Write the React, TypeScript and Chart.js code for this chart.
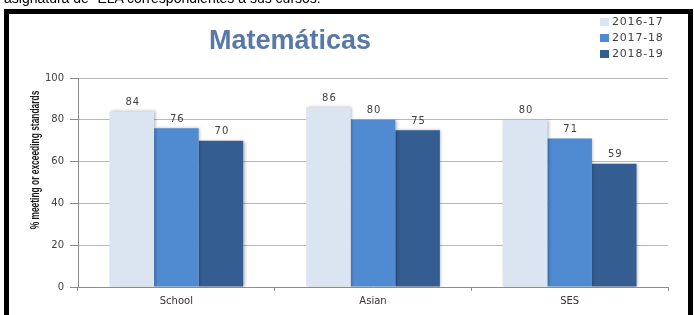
import React, { useEffect, useRef } from "react";
import { Chart, registerables } from "chart.js";

Chart.register(...registerables);

const categories = ["School", "Asian", "SES"];
const seriesLabels = ["2016-17", "2017-18", "2018-19"];
const values201617 = [84, 86, 80];
const values201718 = [76, 80, 71];
const values201819 = [70, 75, 59];
const seriesColors = ["#dbe5f1", "#508ad1", "#345d91"];
const yMin = 0;
const yMax = 100;
const yStep = 20;
const titleText = "Matemáticas";
const yAxisTitle = "% meeting or exceeding standards";
const headerText = "asignatura de “ELA correspondientes a sus cursos.";

const extrasPlugin = {
  id: "extras",
  beforeDatasetsDraw(chart: any) {
    const ctx = chart.ctx;
    ctx.save();
    ctx.shadowColor = "rgba(0,0,0,0.28)";
    ctx.shadowBlur = 3;
    ctx.shadowOffsetX = 1.5;
    ctx.shadowOffsetY = 0;
  },
  afterDatasetsDraw(chart: any) {
    const ctx = chart.ctx;
    ctx.restore();
    ctx.save();
    ctx.font = "10px 'DejaVu Sans'";
    (ctx as any).letterSpacing = "1px";
    ctx.fillStyle = "#404040";
    ctx.textAlign = "center";
    ctx.textBaseline = "bottom";
    chart.data.datasets.forEach((ds: any, di: number) => {
      const meta = chart.getDatasetMeta(di);
      meta.data.forEach((bar: any, i: number) => {
        ctx.fillText(String(ds.data[i]), bar.x + 1, bar.y - 4);
      });
    });
    ctx.restore();
  },
  afterDraw(chart: any) {
    const ctx = chart.ctx;
    const area = chart.chartArea;
    ctx.save();
    // title
    ctx.font = "bold 27px 'Liberation Sans'";
    ctx.fillStyle = "#5878a8";
    ctx.textAlign = "center";
    ctx.textBaseline = "alphabetic";
    ctx.fillText(titleText, area.left + 212, 49);
    // y axis title (condensed)
    ctx.save();
    ctx.translate(area.left - 42, area.top + 82);
    ctx.rotate(-Math.PI / 2);
    ctx.scale(0.7, 1);
    ctx.font = "bold 12px 'Liberation Sans'";
    ctx.fillStyle = "#1a1a1a";
    ctx.textAlign = "center";
    ctx.textBaseline = "middle";
    ctx.fillText(yAxisTitle, 0, 0);
    ctx.restore();
    // legend
    ctx.font = "11px 'DejaVu Sans'";
    (ctx as any).letterSpacing = "0.8px";
    ctx.textAlign = "left";
    ctx.textBaseline = "middle";
    chart.data.datasets.forEach((ds: any, di: number) => {
      const y = 22 + di * 16;
      const x = area.right - 68;
      ctx.fillStyle = ds.backgroundColor;
      ctx.fillRect(x, y - 4, 9, 8);
      ctx.fillStyle = "#404040";
      ctx.fillText(ds.label, x + 12, y);
    });
    ctx.restore();
  },
};

export default function App() {
  const canvasRef = useRef<HTMLCanvasElement | null>(null);

  useEffect(() => {
    const canvas = canvasRef.current;
    if (!canvas) return;
    const seriesValues = [values201617, values201718, values201819];
    const chart = new Chart(canvas, {
      type: "bar",
      data: {
        labels: categories,
        datasets: seriesLabels.map((label, i) => ({
          label,
          data: seriesValues[i],
          backgroundColor: seriesColors[i],
          borderWidth: 0,
          barPercentage: 1,
          categoryPercentage: 0.68,
        })),
      },
      options: {
        responsive: false,
        maintainAspectRatio: false,
        animation: false,
        events: [],
        layout: { padding: { left: 0, right: 26, top: 78, bottom: 0 } },
        plugins: {
          legend: { display: false },
          title: { display: false },
          tooltip: { enabled: false },
        },
        scales: {
          x: {
            afterFit: (s: any) => {
              s.height = 28;
            },
            grid: {
              display: true,
              drawOnChartArea: false,
              drawTicks: true,
              tickLength: 4,
              color: "#8c8c8c",
              offset: true,
            },
            border: { display: true, color: "#8c8c8c", width: 1 },
            ticks: {
              font: { family: "'DejaVu Sans'", size: 10 },
              color: "#333333",
              padding: 4,
            },
          },
          y: {
            min: yMin,
            max: yMax,
            afterFit: (s: any) => {
              s.width = 78;
            },
            grid: {
              color: "#b8b8b8",
              tickColor: "#8c8c8c",
              tickLength: 8,
              drawTicks: true,
            },
            border: { display: true, color: "#8c8c8c", width: 1 },
            ticks: {
              stepSize: yStep,
              font: { family: "'DejaVu Sans'", size: 10 },
              color: "#404040",
              padding: 6,
            },
          },
        },
      },
      plugins: [extrasPlugin],
    });
    return () => chart.destroy();
  }, []);

  return (
    <div
      style={{
        position: "fixed",
        left: 0,
        top: 0,
        width: 694,
        height: 315,
        overflow: "hidden",
        background: "#ffffff",
      }}
    >
      <canvas
        ref={canvasRef}
        width={694}
        height={315}
        style={{ position: "absolute", left: 0, top: 0, width: 694, height: 315 }}
      />
      <div
        style={{
          position: "absolute",
          left: 4,
          top: -10,
          fontFamily: "'Liberation Sans', sans-serif",
          fontSize: 14,
          lineHeight: "16px",
          color: "#000",
          whiteSpace: "nowrap",
        }}
      >
        {headerText}
      </div>
      <div
        style={{
          position: "absolute",
          left: 4,
          top: 9,
          width: 689,
          height: 400,
          boxSizing: "border-box",
          border: "5px solid #000",
          pointerEvents: "none",
        }}
      />
    </div>
  );
}
